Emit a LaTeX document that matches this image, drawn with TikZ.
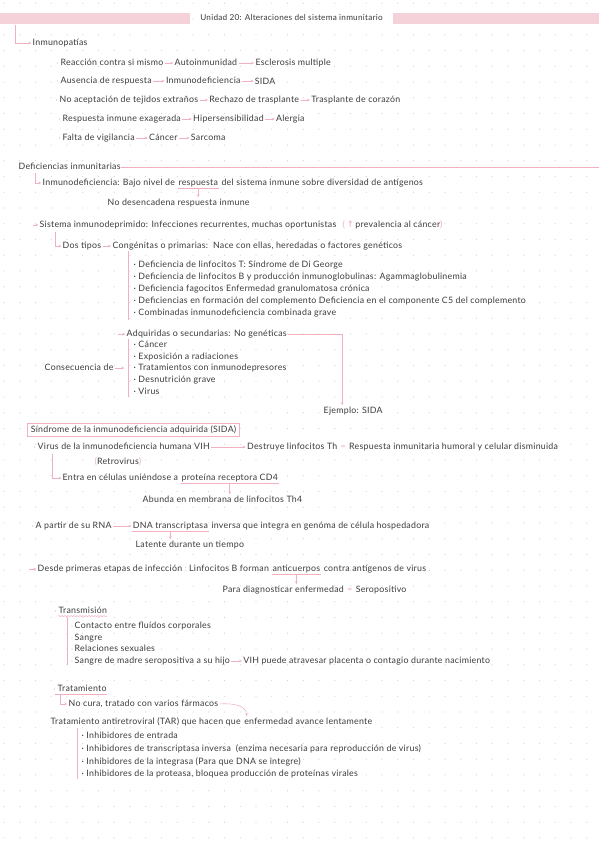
\documentclass[tikz,border=0pt]{standalone}
\usepackage{fontspec}
\setmainfont{Lato}[LetterSpace=3]
\newfontfamily\djv{DejaVu Sans}
\usetikzlibrary{arrows.meta,decorations.pathmorphing}
\definecolor{pk}{RGB}{240,176,190}
\definecolor{band}{RGB}{245,210,217}
\definecolor{txt}{RGB}{60,60,60}
\definecolor{dotc}{RGB}{212,212,212}
\newcommand\txtfont{\fontsize{8.8}{10}\selectfont}
\begin{document}
\begin{tikzpicture}[x=1pt,y=-1pt,
  t/.style={anchor=west, font=\txtfont, text=txt, inner xsep=0.5pt, inner ysep=0.8pt, text height=6.3pt, text depth=1.8pt},
  pl/.style={draw=pk, line width=0.55pt},
  arr/.style={pl, -{Stealth[length=2.8pt,width=2.6pt]}, shorten >=0.8pt, shorten <=0.8pt},
  bul/.style={fill=pk}]
\fill[white] (0,0) rectangle (599,848);
\useasboundingbox (0,0) rectangle (599,848);
% dot grid
\foreach \i in {0,...,37} \foreach \j in {0,...,53}
  \fill[dotc] ({4+15.75*\i},{3.3+15.75*\j}) circle[radius=0.6pt];
% header
\fill[band] (0,13) rectangle (190,24);
\fill[band] (393,13) rectangle (599,24);
\node[t, anchor=center, font=\fontsize{8.2}{10}\selectfont] (hd) at (291.5,18.5) {Unidad 20: Alteraciones del sistema inmunitario};
\coordinate (h0) at (15,24);
\node[t] (inm) at (32,43) {Inmunopatías};
\draw[arr] (h0) |- (inm.west);
% rows
\node[t] (a1) at (60,63) {Reacción contra si mismo};
\node[t] (a2) at ([xshift=10]a1.east) {Autoinmunidad};
\node[t] (a3) at ([xshift=17]a2.east) {Esclerosis multiple};
\draw[arr] (a1) -- (a2); \draw[arr] (a2) -- (a3);
\node[t] (b1) at (60,81) {Ausencia de respuesta};
\node[t] (b2) at ([xshift=13]b1.east) {Inmunodeficiencia};
\node[t] (b3) at ([xshift=13,yshift=-1.5]b2.east) {SIDA};
\draw[arr] (b1) -- (b2); \draw[arr] (b2.east) -- (b2.east -| b3.west);
\node[t] (c1) at (59,100) {No aceptación de tejidos extraños};
\node[t] (c2) at ([xshift=10]c1.east) {Rechazo de trasplante};
\node[t] (c3) at ([xshift=11]c2.east) {Trasplante de corazón};
\draw[arr] (c1) -- (c2); \draw[arr] (c2) -- (c3);
\node[t] (d1) at (62,119) {Respuesta inmune exagerada};
\node[t] (d2) at ([xshift=11]d1.east) {Hipersensibilidad};
\node[t] (d3) at ([xshift=11]d2.east) {Alergia};
\draw[arr] (d1) -- (d2); \draw[arr] (d2) -- (d3);
\node[t] (e1) at (62,138) {Falta de vigilancia};
\node[t] (e2) at ([xshift=13]e1.east) {Cáncer};
\node[t] (e3) at ([xshift=12]e2.east) {Sarcoma};
\draw[arr] (e1) -- (e2); \draw[arr] (e2) -- (e3);
\foreach \n in {a1,b1,c1,d1,e1} \fill[bul] ([xshift=-2.5]\n.west) circle[radius=0.7pt];
% deficiencias
\node[t] (def) at (18,167) {Deficiencias inmunitarias};
\coordinate (defE) at (599,167);
\draw[pl] (def) -- (defE);
\coordinate (id0) at (35,172);
\node[t] (id1) at (42,183) {Inmunodeficiencia: Bajo nivel de};
\node[t] (id2) at ([xshift=2.2]id1.east) {respuesta};
\node[t] (id3) at ([xshift=2.2]id2.east) {del sistema inmune sobre diversidad de antígenos};
\draw[arr] (id0) |- (id1.west);
\node[t] (nd) at (107,203) {No desencadena respuesta inmune};
\draw[pl] (id2.south west) -- (id2.south east);
\draw[arr] (id2.south) -- (id2.south |- nd.north);
\coordinate (sis0) at (32,225);
\node[t] (sis) at (39,225) {Sistema inmunodeprimido: Infecciones recurrentes, muchas oportunistas};
\draw[arr] (sis0) -- (sis);
\node[t] (prev) at ([xshift=5]sis.east) {{\color{pk}(}\,{\djv\color{pk}↑}\,prevalencia al cáncer{\color{pk})}};
\coordinate (dt0) at (55,231);
\node[t] (dt) at (62,246) {Dos tipos};
\draw[arr] (dt0) |- (dt.west);
\node[t] (cg) at ([xshift=10]dt.east) {Congénitas o primarias:\ \ Nace con ellas, heredadas o factores genéticos};
\draw[arr] (dt) -- (cg);
\coordinate (v1a) at (128,251); \coordinate (v1b) at (128,320);
\draw[pl] (v1a) -- (v1b);
\node[t] (l1) at (133,265) {· Deficiencia de linfocitos T: Síndrome de Di George};
\node[t] (l2) at (133,277) {· Deficiencia de linfocitos B y producción inmunoglobulinas: Agammaglobulinemia};
\node[t] (l3) at (133,289) {· Deficiencia fagocitos Enfermedad granulomatosa crónica};
\node[t] (l4) at (133,301) {· Deficiencias en formación del complemento Deficiencia en el componente C5 del complemento};
\node[t] (l5) at (133,313) {· Combinadas inmunodeficiencia combinada grave};
\coordinate (adq0) at (117,334);
\node[t] (adq) at (126,334) {Adquiridas o secundarias: No genéticas};
\draw[arr] (adq0) -- (adq);
\node[t] (ej) at (323,411) {Ejemplo: SIDA};
\draw[arr] (adq.east) -| ([xshift=-11]ej.north);
\coordinate (v2a) at (128,339); \coordinate (v2b) at (128,397);
\draw[pl] (v2a) -- (v2b);
\node[t] (m1) at (133,345) {· Cáncer};
\node[t] (m2) at (133,357) {· Exposición a radiaciones};
\node[t] (m3) at (133,368) {· Tratamientos con inmunodepresores};
\node[t] (m4) at (133,380) {· Desnutrición grave};
\node[t] (m5) at (133,392) {· Virus};
\node[t] (cons) at (44,368) {Consecuencia de};
\coordinate (consE) at (125,368);
\draw[arr] (cons) -- (consE);
% SIDA
\node[t, draw=pk, line width=0.7pt, inner xsep=3.5pt, inner ysep=2.5pt] (sida) at (27,430) {Síndrome de la inmunodeficiencia adquirida (SIDA)};
\node[t] (vih) at (37,447) {Virus de la inmunodeficiencia humana VIH};
\fill[bul] ([xshift=-2.5]vih.west) circle[radius=0.7pt];
\node[t] (des) at ([xshift=36]vih.east) {Destruye linfocitos Th};
\draw[arr] (vih) -- (des);
\node[t, text=pk] (eq1) at ([xshift=2]des.east) {=};
\node[t] (resp) at ([xshift=2]eq1.east) {Respuesta inmunitaria humoral y celular disminuida};
\node[t] (retro) at (94,462) {{\color{pk}(}Retrovirus{\color{pk})}};
\coordinate (en0) at (52,453);
\node[t] (en1) at (62,478) {Entra en células uniéndose a};
\node[t] (en2) at ([xshift=2.2]en1.east) {proteína receptora CD4};
\draw[arr] (en0) |- (en1.west);
\node[t] (ab) at (142,500) {Abunda en membrana de linfocitos Th4};
\draw[pl] (en2.south west) -- (en2.south east);
\draw[arr] (en2.south) -- (en2.south |- ab.north);
% RNA
\node[t] (ap) at (35,526) {A partir de su RNA};
\fill[bul] ([xshift=-2.5]ap.west) circle[radius=0.7pt];
\node[t] (dna1) at ([xshift=20]ap.east) {DNA transcriptasa};
\node[t] (dna2) at ([xshift=2.2]dna1.east) {inversa que integra en genóma de célula hospedadora};
\draw[arr] (ap) -- (dna1);
\node[t] (lat) at (135,545) {Latente durante un tiempo};
\draw[pl] (dna1.south west) -- (dna1.south east);
\draw[arr] (dna1.south) -- (dna1.south |- lat.north);
\coordinate (ds0) at (28,569);
\node[t] (ds) at (37,569) {Desde primeras etapas de infección};
\draw[arr] (ds0) -- (ds);
\node[t, text=pk] (col) at ([xshift=1]ds.east) {:};
\node[t] (lb1) at ([xshift=1]col.east) {Linfocitos B forman};
\node[t] (lb2) at ([xshift=2.2]lb1.east) {anticuerpos};
\node[t] (lb3) at ([xshift=2.2]lb2.east) {contra antígenos de virus};
\node[t] (para) at (222,590) {Para diagnosticar enfermedad};
\draw[pl] (lb2.south west) -- (lb2.south east);
\draw[arr] (lb2.south) -- (lb2.south |- para.north);
\node[t, text=pk] (eq2) at ([xshift=2]para.east) {=};
\node[t] (sero) at ([xshift=2]eq2.east) {Seropositivo};
% Transmision
\node[t] (tr) at (58,611) {Transmisión};
\fill[bul] ([xshift=-2.5]tr.west) circle[radius=0.7pt];
\draw[pl, decorate, decoration={snake, amplitude=0.5pt, segment length=3pt}] (tr.south west) -- (tr.south east);
\coordinate (v3a) at (67,617); \coordinate (v3b) at (67,665);
\draw[pl] (v3a) -- (v3b);
\node[t] (t1) at (74,626) {Contacto entre fluídos corporales};
\node[t] (t2) at (74,638) {Sangre};
\node[t] (t3) at (74,649) {Relaciones sexuales};
\node[t] (t4) at (74,661) {Sangre de madre seropositiva a su hijo};
\foreach \n in {t1,t2,t3,t4} \fill[bul] ([xshift=-2]\n.west) circle[radius=0.6pt];
\node[t] (vp) at ([xshift=12]t4.east) {VIH puede atravesar placenta o contagio durante nacimiento};
\draw[arr] (t4) -- (vp);
% Tratamiento
\node[t] (trat) at (57,689) {Tratamiento};
\fill[bul] ([xshift=-2.5]trat.west) circle[radius=0.7pt];
\draw[pl] ([xshift=-2]trat.south west) -- (trat.south east);
\node[t] (nc) at (68,704) {No cura, tratado con varios fármacos};
\draw[arr] ([xshift=3]trat.south west) |- (nc.west);
\node[t] (tar1) at (50,722) {Tratamiento antiretroviral (TAR) que hacen que};
\node[t] (tar2) at ([xshift=2.2]tar1.east) {enfermedad avance lentamente};
\draw[arr] (nc.east) to[out=5, in=90] ([xshift=3]tar2.north west);
\coordinate (v4a) at (77,728); \coordinate (v4b) at (77,779);
\draw[pl] (v4a) -- (v4b);
\node[t] (r1) at (81,736) {· Inhibidores de entrada};
\node[t] (r2) at (81,749) {· Inhibidores de transcriptasa inversa\ \ (enzima necesaria para reproducción de virus)};
\node[t] (r3) at (81,762) {· Inhibidores de la integrasa (Para que DNA se integre)};
\node[t] (r4) at (81,774) {· Inhibidores de la proteasa, bloquea producción de proteínas virales};
\end{tikzpicture}
\end{document}
